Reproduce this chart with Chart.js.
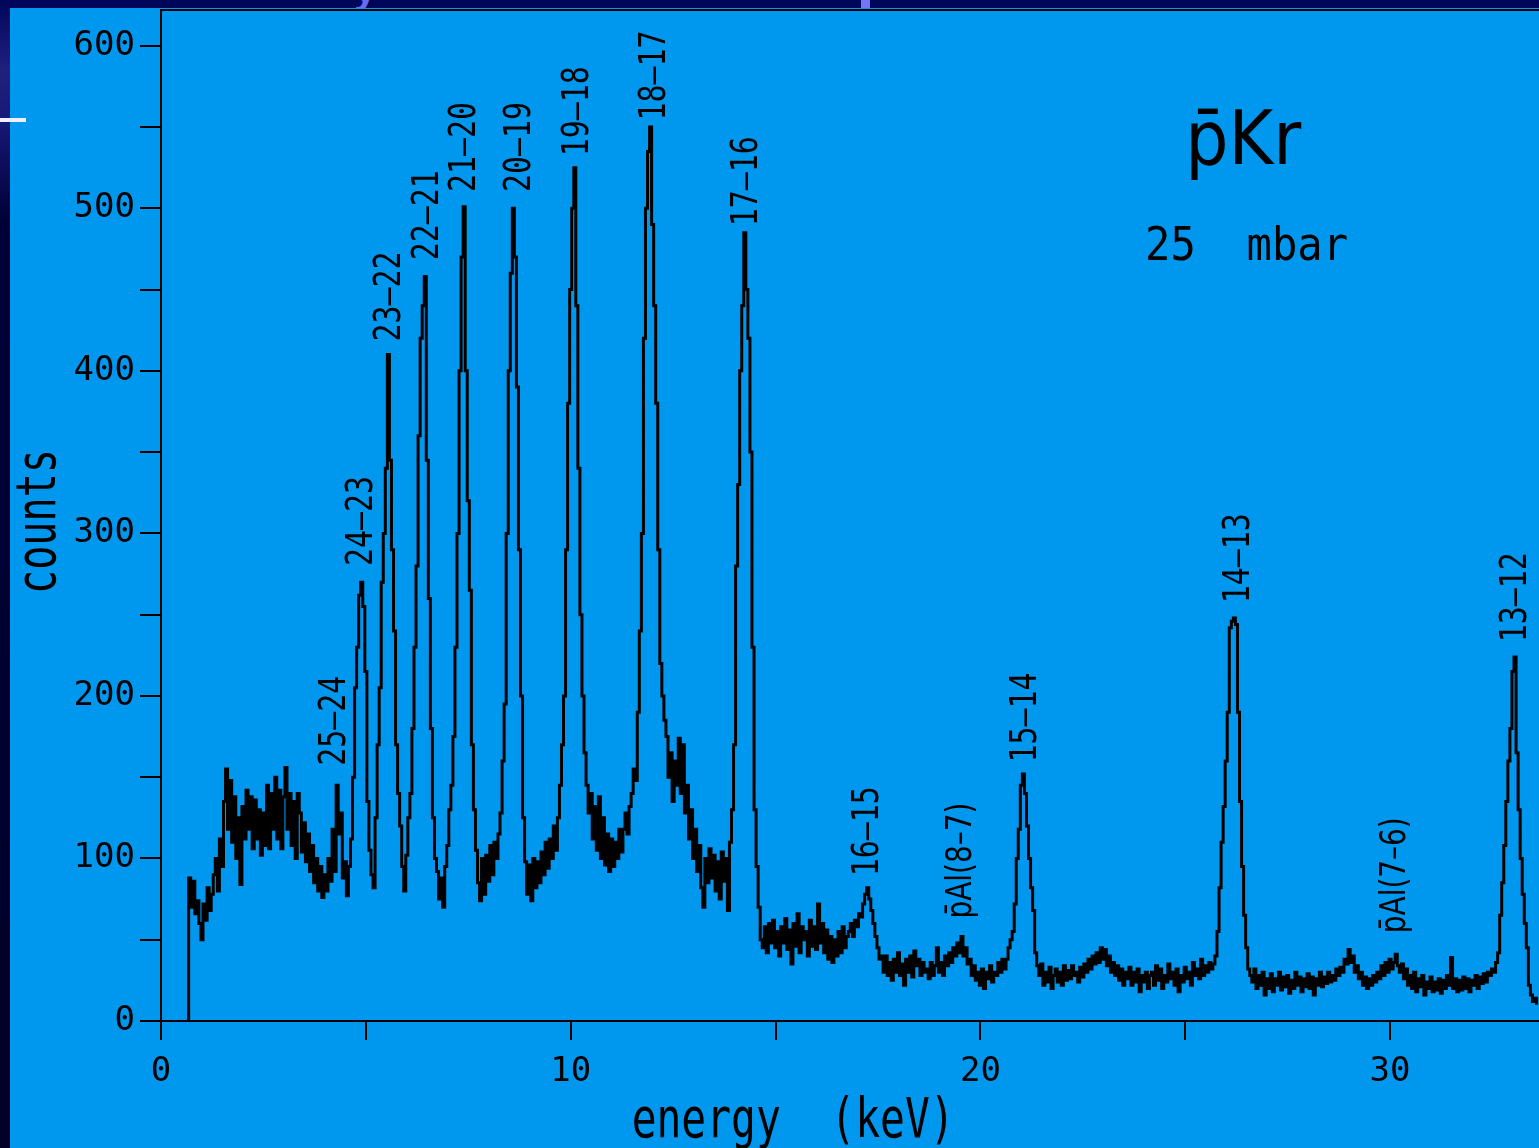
<!DOCTYPE html>
<html>
<head>
<meta charset="utf-8">
<script src="https://cdn.jsdelivr.net/npm/chart.js@4.4.1/dist/chart.umd.min.js"></script>
<style>
  html, body { margin: 0; padding: 0; width: 1539px; height: 1148px; overflow: hidden; background: #000030; }
  #slideTop { position: absolute; left: 0; top: 0; width: 1539px; height: 8px; background: #00065a; overflow: hidden; }
  #slideTop .frag { position: absolute; left: 354px; top: -33px; font: bold 40px "Liberation Sans", sans-serif; color: #6a6af2; }
  #slideTop .bar { position: absolute; left: 861px; top: 0; width: 9px; height: 8px; background: #7474f4; }
  #leftStrip { position: absolute; left: 0; top: 0; width: 10px; height: 1148px;
    background: linear-gradient(#00065a 0px, #20207e 70px, #181878 120px, #000038 220px, #000028 100%); }
  #panel { position: absolute; left: 10px; top: 8px; width: 1529px; height: 1140px; background: #0098ee; }
  #whiteBar { position: absolute; left: 0; top: 118px; width: 26px; height: 4px; background: #eef0ff; }
  canvas { display: block; }
</style>
</head>
<body>
<div id="slideTop"><span class="frag">y</span><span class="bar"></span></div>
<div id="leftStrip"></div>
<div id="panel"><canvas id="c" width="1529" height="1140"></canvas></div>
<div id="whiteBar"></div>
<script>
// ---- channel calibration (lower edge of first channel, channel width in keV)
const firstChannelEnergy = 0.625;
const channelWidth = 0.05;

// ---- counts per channel (0.65 keV ... 33.60 keV)
const countsA = [ // 0.65 - 4.60 keV
  0, 88, 70, 86, 66, 74, 60, 50, 72, 62, 82, 68, 78, 90, 100, 80, 112, 95, 135, 155,
  118, 148, 110, 138, 100, 125, 84, 132, 112, 142, 118, 138, 106, 136, 112, 130, 102, 128, 108, 145,
  106, 140, 118, 150, 112, 142, 106, 138, 156, 118, 140, 108, 135, 100, 140, 128, 104, 122, 98, 115,
  92, 108, 85, 100, 80, 95, 76, 90, 80, 100, 86, 118, 92, 145, 115, 128, 88, 98, 77, 95
];
const countsB = [ // 4.65 - 9.60 keV
  112, 150, 205, 230, 262, 270, 255, 215, 135, 105, 90, 82, 125, 170, 205, 270, 300, 340, 410, 345,
  290, 240, 170, 140, 120, 95, 80, 102, 125, 140, 180, 230, 280, 360, 420, 440, 458, 345, 260, 180,
  125, 100, 92, 75, 88, 70, 95, 108, 130, 145, 175, 230, 300, 400, 470, 501, 400, 320, 265, 170,
  130, 105, 85, 74, 100, 78, 102, 86, 108, 90, 110, 100, 115, 128, 160, 195, 300, 400, 460, 500,
  470, 390, 290, 200, 125, 98, 78, 96, 74, 100, 82, 98, 85, 104, 90, 110, 94, 112, 100, 120
];
const countsC = [ // 9.65 - 14.60 keV
  105, 125, 145, 170, 200, 290, 380, 450, 500, 525, 440, 340, 250, 200, 165, 145, 128, 140, 112, 132,
  105, 138, 100, 125, 96, 115, 92, 112, 95, 110, 100, 118, 104, 118, 128, 115, 132, 140, 155, 148,
  190, 240, 300, 420, 500, 535, 550, 490, 440, 380, 290, 220, 200, 185, 175, 150, 165, 135, 160, 145,
  174, 140, 170, 128, 145, 112, 130, 100, 118, 92, 108, 82, 70, 100, 85, 106, 88, 102, 80, 98,
  75, 104, 86, 100, 68, 110, 130, 170, 280, 330, 400, 440, 485, 450, 420, 350, 230, 130, 95, 70
];
const countsD = [ // 14.65 - 21.60 keV
  50, 45, 58, 42, 60, 48, 62, 45, 55, 40, 58, 48, 63, 44, 56, 35, 60, 46, 66, 42,
  58, 50, 55, 40, 62, 46, 58, 44, 72, 48, 60, 42, 56, 38, 52, 36, 50, 40, 55, 42,
  58, 45, 52, 55, 60, 52, 62, 58, 66, 64, 72, 78, 82, 75, 68, 60, 52, 45, 38, 40,
  30, 40, 28, 36, 25, 38, 30, 42, 28, 35, 22, 38, 30, 40, 27, 43, 34, 38, 28, 36,
  30, 32, 26, 36, 28, 34, 45, 30, 36, 28, 40, 34, 42, 36, 45, 40, 48, 42, 52, 40,
  45, 35, 38, 28, 34, 25, 30, 22, 32, 20, 30, 26, 34, 24, 30, 28, 36, 30, 38, 32,
  38, 45, 50, 55, 72, 100, 118, 145, 152, 140, 120, 100, 82, 68, 42, 34, 28, 35, 22, 30
];
const countsE = [ // 21.65 - 27.60 keV
  24, 33, 20, 28, 32, 24, 30, 22, 34, 25, 31, 26, 34, 28, 30, 24, 33, 27, 35, 30,
  38, 32, 40, 35, 42, 36, 45, 38, 44, 34, 40, 30, 36, 28, 34, 25, 32, 22, 30, 26,
  33, 22, 30, 24, 32, 18, 28, 24, 30, 20, 28, 30, 22, 34, 25, 32, 20, 28, 24, 35,
  26, 30, 22, 32, 18, 28, 24, 33, 26, 30, 22, 36, 28, 32, 26, 38, 28, 34, 30, 36,
  32, 35, 40, 55, 82, 110, 132, 160, 190, 242, 246, 248, 244, 190, 135, 95, 65, 45, 32, 28,
  24, 32, 20, 28, 22, 30, 16, 26, 20, 29, 18, 26, 22, 30, 19, 27, 21, 28, 17, 25
];
const countsF = [ // 27.65 - 33.60 keV
  20, 30, 22, 27, 18, 26, 21, 29, 20, 27, 16, 26, 22, 30, 21, 27, 23, 30, 24, 28,
  25, 32, 28, 33, 30, 38, 35, 44, 36, 40, 30, 34, 26, 30, 22, 27, 20, 26, 22, 28,
  24, 30, 26, 34, 28, 36, 30, 38, 32, 36, 41, 34, 30, 35, 26, 32, 22, 28, 20, 30,
  18, 26, 21, 28, 16, 24, 20, 27, 18, 24, 19, 26, 17, 25, 20, 28, 22, 39, 20, 26,
  18, 25, 19, 27, 20, 26, 18, 25, 22, 28, 20, 27, 23, 29, 24, 30, 28, 32, 30, 36,
  42, 65, 85, 108, 135, 160, 180, 215, 224, 165, 130, 100, 78, 60, 45, 22, 16, 12, 14, 10
];
const counts = [...countsA, ...countsB, ...countsC, ...countsD, ...countsE, ...countsF];

// ---- axes
const xTickLabels = [0, 10, 20, 30];
const yTickLabels = [0, 100, 200, 300, 400, 500, 600];
const xAxisTitle = 'energy  (keV)';
const yAxisTitle = 'counts';

// ---- line identification labels (text, energy, count at label foot)
const peakLabelText   = ['25–24', '24–23', '23–22', '22–21', '21–20', '20–19', '19–18', '18–17', '17–16',
                         '16–15', 'p\u0304Al(8–7)', '15–14', '14–13', 'p\u0304Al(7–6)', '13–12'];
const peakLabelEnergy = [4.15, 4.81, 5.49, 6.42, 7.32, 8.66, 10.08, 11.96, 14.21,
                         17.16, 19.45, 21.02, 26.21, 30.05, 32.98];
const peakLabelCount  = [157, 280, 418, 468, 510, 510, 532, 554, 489,
                         89, 63, 159, 257, 54, 233];

// ---- sample annotation
const sampleName = 'p\u0304Kr';
const samplePressure = '25  mbar';

const points = counts.map((c, i) => ({ x: firstChannelEnergy + i * channelWidth, y: c }));

function drawCondensed(ctx, text, font, x, y, targetWidth, rotated, align) {
  ctx.save();
  ctx.font = font;
  const w = ctx.measureText(text).width;
  const sx = targetWidth / w;
  ctx.translate(x, y);
  if (rotated) ctx.rotate(-Math.PI / 2);
  ctx.scale(sx, 1);
  ctx.textAlign = align;
  ctx.textBaseline = 'alphabetic';
  ctx.fillStyle = '#000';
  ctx.fillText(text, 0, 0);
  ctx.restore();
}

const textPlugin = {
  id: 'spectrumText',
  afterDraw(chart) {
    const { ctx, chartArea, scales: { x, y } } = chart;
    ctx.save();
    // top frame line of the plot box
    ctx.strokeStyle = '#000';
    ctx.lineWidth = 2;
    ctx.beginPath();
    ctx.moveTo(chartArea.left - 1, chartArea.top);
    ctx.lineTo(chartArea.right, chartArea.top);
    ctx.stroke();
    ctx.restore();

    // peak labels, rotated, reading upward from above each line
    peakLabelText.forEach((t, i) => {
      const px = x.getPixelForValue(peakLabelEnergy[i]);
      const py = y.getPixelForValue(peakLabelCount[i]);
      const isAl = t.indexOf('Al') >= 0;
      const size = isAl ? 36 : 38;
      const font = isAl ? size + 'px "DejaVu Sans"' : size + 'px "DejaVu Sans Mono"';
      const target = isAl ? 116 : 90;
      const cap = 0.729 * size;
      drawCondensed(ctx, t, font, px + cap / 2, py, target, true, 'left');
    });

    // sample annotation
    drawCondensed(ctx, sampleName, '74px "DejaVu Sans"', x.getPixelForValue(25.0), y.getPixelForValue(527), 116, false, 'left');
    drawCondensed(ctx, samplePressure, '46px "DejaVu Sans Mono"', x.getPixelForValue(24.02), y.getPixelForValue(468), 203, false, 'left');

    // axis titles
    drawCondensed(ctx, xAxisTitle, '56px "DejaVu Sans Mono"', x.getPixelForValue(15.43), chartArea.bottom + 116, 323, false, 'center');
    drawCondensed(ctx, yAxisTitle, '56px "DejaVu Sans Mono"', chartArea.left - 106, (chartArea.top + chartArea.bottom) / 2 + 6, 145, true, 'center');
  }
};

const tickFont = { family: '"DejaVu Sans Mono"', size: 34 };

new Chart(document.getElementById('c'), {
  type: 'line',
  data: {
    datasets: [{
      data: points,
      borderColor: '#000',
      borderWidth: 3,
      pointRadius: 0,
      stepped: true,
      fill: false,
      tension: 0
    }]
  },
  options: {
    responsive: false,
    animation: false,
    events: [],
    layout: { padding: { top: 2, right: 0, bottom: 0, left: 0 } },
    plugins: { legend: { display: false }, tooltip: { enabled: false }, title: { display: false } },
    scales: {
      x: {
        type: 'linear',
        min: 0,
        max: 33.635,
        afterFit(s) { s.height = 127; s.paddingLeft = 0; s.paddingRight = 0; },
        ticks: {
          stepSize: 5,
          includeBounds: false,
          autoSkip: false,
          maxRotation: 0,
          padding: 12,
          color: '#000',
          font: tickFont,
          callback: v => xTickLabels.includes(v) ? String(v) : ''
        },
        grid: { display: true, drawOnChartArea: false, drawTicks: true, tickLength: 19, color: '#000', lineWidth: 2 },
        border: { display: true, color: '#000', width: 2 }
      },
      y: {
        type: 'linear',
        min: 0,
        max: 622,
        afterFit(s) { s.width = 151; s.paddingTop = 0; s.paddingBottom = 0; },
        ticks: {
          stepSize: 50,
          includeBounds: false,
          autoSkip: false,
          padding: 5,
          color: '#000',
          font: tickFont,
          callback: v => yTickLabels.includes(v) ? String(v) : ''
        },
        grid: { display: true, drawOnChartArea: false, drawTicks: true, tickLength: 21, color: '#000', lineWidth: 2 },
        border: { display: true, color: '#000', width: 2 }
      }
    }
  },
  plugins: [textPlugin]
});
</script>
</body>
</html>
